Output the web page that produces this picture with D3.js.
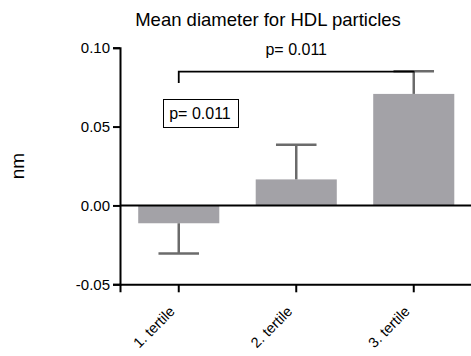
<!DOCTYPE html>
<html><head><meta charset="utf-8">
<script src="https://cdn.jsdelivr.net/npm/d3@7"></script>
<style>body{margin:0;background:#fff}svg{display:block}text{font-family:Arial,"Liberation Sans",sans-serif}</style>
</head><body><svg id="c" width="471" height="356"></svg>
<script>
const categories = ["1. tertile", "2. tertile", "3. tertile"];
const means = [-0.0113, 0.0165, 0.0707];
const errors = [0.0192, 0.0219, 0.0143];
const yTicks = [-0.05, 0.00, 0.05, 0.10];
const title = "Mean diameter for HDL particles";
const yLabel = "nm";
const pTop = "p= 0.011";
const pBox = "p= 0.011";

const svg = d3.select("#c");
const x = d3.scaleBand().domain(categories).range([120, 472.5]).paddingInner(0.31).paddingOuter(0.155);
const y = d3.scaleLinear().domain([-0.05, 0.10]).range([284.3, 47.7]);

const barColor = "#a3a2a7", errColor = "#6b6b6b";

// bars
svg.selectAll("rect.bar").data(categories).enter().append("rect")
  .attr("x", d => x(d)).attr("width", x.bandwidth())
  .attr("y", (d,i) => y(Math.max(0, means[i])))
  .attr("height", (d,i) => Math.abs(y(means[i]) - y(0)))
  .attr("fill", barColor);

// error bars
const eb = svg.append("g").attr("stroke", errColor).attr("stroke-width", 2.5);
categories.forEach((c,i) => {
  const cx = x(c) + x.bandwidth()/2;
  const end = means[i] + Math.sign(means[i]) * errors[i];
  eb.append("line").attr("x1", cx).attr("x2", cx).attr("y1", y(means[i])).attr("y2", y(end));
  eb.append("line").attr("x1", cx - x.bandwidth()/4).attr("x2", cx + x.bandwidth()/4).attr("y1", y(end)).attr("y2", y(end));
});

// y axis
const fmt = d3.format(".2f");
const yAxis = d3.axisLeft(y).tickValues(yTicks).tickFormat(d => fmt(d).replace("\u2212", "-")).tickSizeOuter(0).tickSize(7).tickPadding(3);
const gy = svg.append("g").attr("transform", "translate(120,0)").call(yAxis);
gy.select(".domain").attr("stroke", "#000").attr("stroke-width", 2);
gy.selectAll(".tick line").attr("stroke", "#000").attr("stroke-width", 2);
gy.selectAll(".tick text").attr("font-size", 15).attr("fill", "#000").attr("font-family", "Arial,'Liberation Sans',sans-serif");

// zero line
svg.append("line").attr("x1", 120).attr("x2", 471).attr("y1", y(0)).attr("y2", y(0)).attr("stroke", "#000").attr("stroke-width", 2);

// x axis
const xAxis = d3.axisBottom(x).tickSizeOuter(0).tickSize(8).tickFormat("");
const gx = svg.append("g").attr("transform", `translate(0,${y(-0.05)})`).call(xAxis);
gx.select(".domain").attr("stroke", "#000").attr("stroke-width", 2);
gx.selectAll(".tick line").attr("stroke", "#000").attr("stroke-width", 2);
svg.selectAll("text.xl").data(categories).enter().append("text")
  .attr("transform", d => `translate(${x(d) + x.bandwidth()/2 - 3},${y(-0.05) + 28}) rotate(-45)`)
  .attr("text-anchor", "end").attr("font-size", 14.5).attr("fill", "#000").text(d => d);

// title
svg.append("text").attr("x", 268).attr("y", 26).attr("text-anchor", "middle").attr("font-size", 18.5).attr("fill", "#000").text(title);
// y label
svg.append("text").attr("transform", "translate(24,166) rotate(-90)").attr("text-anchor", "middle").attr("font-size", 19).attr("fill", "#000").text(yLabel);

// bracket
const x1 = x(categories[0]) + x.bandwidth()/2, x3 = x(categories[2]) + x.bandwidth()/2;
svg.append("path").attr("d", `M${x1},${y(0.0776)}V${y(0.0848)}H${x3}V${y(means[2]+errors[2])}`)
  .attr("fill", "none").attr("stroke", "#000").attr("stroke-width", 1.8);
svg.append("text").attr("x", (x1 + x3)/2).attr("y", 55).attr("text-anchor", "middle").attr("font-size", 16).attr("fill", "#000").text(pTop);

// boxed p
svg.append("rect").attr("x", 163.5).attr("y", 99.5).attr("width", 75).attr("height", 28).attr("fill", "#fff").attr("stroke", "#000").attr("stroke-width", 1);
svg.append("text").attr("x", 200).attr("y", 119.3).attr("text-anchor", "middle").attr("font-size", 16).attr("fill", "#000").text(pBox);
</script></body></html>
